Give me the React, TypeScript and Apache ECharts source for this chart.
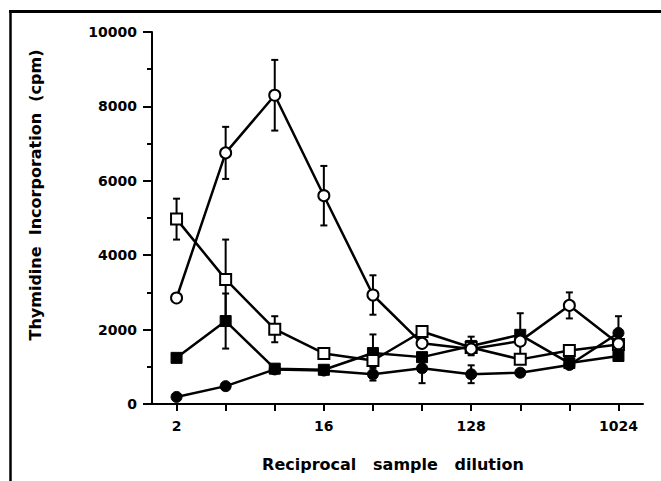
import React, { useEffect, useRef } from "react";
import * as echarts from "echarts";

const categories = ["2", "4", "8", "16", "32", "64", "128", "256", "512", "1024"];
const labelledIndices = [0, 3, 6, 9];

const openCircle = [2850, 6750, 8300, 5600, 2930, 1630, 1480, 1690, 2650, 1620];
const openCircleErr = [0, 700, 950, 800, 530, 0, 0, 0, 350, 0];

const openSquare = [4970, 3350, 2010, 1360, 1170, 1950, 1520, 1200, 1440, 1600];
const openSquareErr = [550, 1070, 350, 0, 0, 0, 0, 0, 0, 0];

const filledSquare = [1240, 2230, 950, 920, 1370, 1260, 1560, 1860, 1100, 1290];
const filledSquareErr = [0, 740, 0, 0, 500, 0, 250, 580, 0, 0];

const filledCircle = [190, 480, 930, 900, 800, 960, 800, 840, 1050, 1910];
const filledCircleErr = [0, 0, 0, 0, 170, 400, 240, 0, 0, 450];

const yTitle = "Thymidine  Incorporation  (cpm)";
const xTitle = "Reciprocal   sample   dilution";

const FONT = '"DejaVu Sans", "Liberation Sans", Arial, sans-serif';

function buildErr(values: number[], errs: number[]) {
  const out: number[][] = [];
  values.forEach((v, i) => {
    if (errs[i] > 0) out.push([i, v, errs[i]]);
  });
  return out;
}

export default function App() {
  const ref = useRef<HTMLDivElement>(null);

  useEffect(() => {
    if (!ref.current) return;
    const chart = echarts.init(ref.current, undefined, { renderer: "svg" });

    const errData = [
      ...buildErr(openCircle, openCircleErr),
      ...buildErr(openSquare, openSquareErr),
      ...buildErr(filledSquare, filledSquareErr),
      ...buildErr(filledCircle, filledCircleErr),
    ];

    const lineBase = {
      type: "line" as const,
      silent: true,
      symbolSize: 11,
      z: 3,
      lineStyle: { color: "#000", width: 2.5 },
      emphasis: { disabled: true },
    };

    chart.setOption({
      animation: false,
      backgroundColor: "#fff",
      grid: { left: 152, right: 18, top: 32, bottom: 77, containLabel: false },
      xAxis: {
        type: "category",
        data: categories,
        boundaryGap: true,
        axisLine: { show: true, lineStyle: { color: "#000", width: 2 } },
        axisTick: {
          show: true,
          alignWithLabel: true,
          interval: 0,
          length: 7,
          lineStyle: { color: "#000", width: 2 },
        },
        axisLabel: {
          interval: (i: number) => labelledIndices.includes(i),
          color: "#000",
          fontFamily: FONT,
          fontWeight: "bold",
          fontSize: 14,
          margin: 15,
        },
        splitLine: { show: false },
      },
      yAxis: {
        type: "value",
        min: 0,
        max: 10000,
        interval: 2000,
        axisLine: { show: true, lineStyle: { color: "#000", width: 2 } },
        axisTick: { show: true, length: 9, lineStyle: { color: "#000", width: 2 } },
        minorTick: { show: true, splitNumber: 2, length: 5, lineStyle: { color: "#000", width: 2 } },
        minorSplitLine: { show: false },
        splitLine: { show: false },
        axisLabel: {
          color: "#000",
          fontFamily: FONT,
          fontWeight: "bold",
          fontSize: 14,
          margin: 15,
          formatter: (v: number) => String(v),
        },
      },
      graphic: [
        {
          type: "line",
          shape: { x1: 9, y1: 11.5, x2: 661, y2: 11.5 },
          style: { stroke: "#000", lineWidth: 3 },
          silent: true,
        },
        {
          type: "line",
          shape: { x1: 10.5, y1: 10, x2: 10.5, y2: 481 },
          style: { stroke: "#000", lineWidth: 2.5 },
          silent: true,
        },
        {
          type: "text",
          x: 35,
          y: 195,
          rotation: Math.PI / 2,
          style: {
            text: yTitle,
            fill: "#000",
            fontFamily: FONT,
            fontWeight: "bold",
            fontSize: 16,
            align: "center",
            verticalAlign: "middle",
          },
          silent: true,
        },
        {
          type: "text",
          x: 393,
          y: 464,
          style: {
            text: xTitle,
            fill: "#000",
            fontFamily: FONT,
            fontWeight: "bold",
            fontSize: 16,
            align: "center",
            verticalAlign: "middle",
          },
          silent: true,
        },
      ],
      series: [
        {
          type: "custom",
          silent: true,
          z: 2,
          data: errData,
          encode: { x: 0, y: 1 },
          renderItem: (params: any, api: any) => {
            const i = api.value(0);
            const v = api.value(1);
            const e = api.value(2);
            const top = api.coord([i, v + e]);
            const bot = api.coord([i, v - e]);
            const hw = 3.5;
            const st = { stroke: "#000", lineWidth: 2 };
            return {
              type: "group",
              children: [
                { type: "line", shape: { x1: top[0], y1: top[1], x2: bot[0], y2: bot[1] }, style: st },
                { type: "line", shape: { x1: top[0] - hw, y1: top[1], x2: top[0] + hw, y2: top[1] }, style: st },
                { type: "line", shape: { x1: bot[0] - hw, y1: bot[1], x2: bot[0] + hw, y2: bot[1] }, style: st },
              ],
            };
          },
        },
        {
          ...lineBase,
          name: "filled circle",
          data: filledCircle,
          symbol: "circle",
          itemStyle: { color: "#000", borderColor: "#000", borderWidth: 1 },
        },
        {
          ...lineBase,
          name: "filled square",
          data: filledSquare,
          symbol: "rect",
          itemStyle: { color: "#000", borderColor: "#000", borderWidth: 1 },
        },
        {
          ...lineBase,
          name: "open square",
          data: openSquare,
          symbol: "rect",
          itemStyle: { color: "#fff", borderColor: "#000", borderWidth: 2 },
        },
        {
          ...lineBase,
          name: "open circle",
          data: openCircle,
          symbol: "circle",
          itemStyle: { color: "#fff", borderColor: "#000", borderWidth: 2 },
        },
      ],
    });

    return () => chart.dispose();
  }, []);

  return (
    <div
      ref={ref}
      style={{ position: "absolute", left: 0, top: 0, width: 661, height: 481 }}
    />
  );
}
